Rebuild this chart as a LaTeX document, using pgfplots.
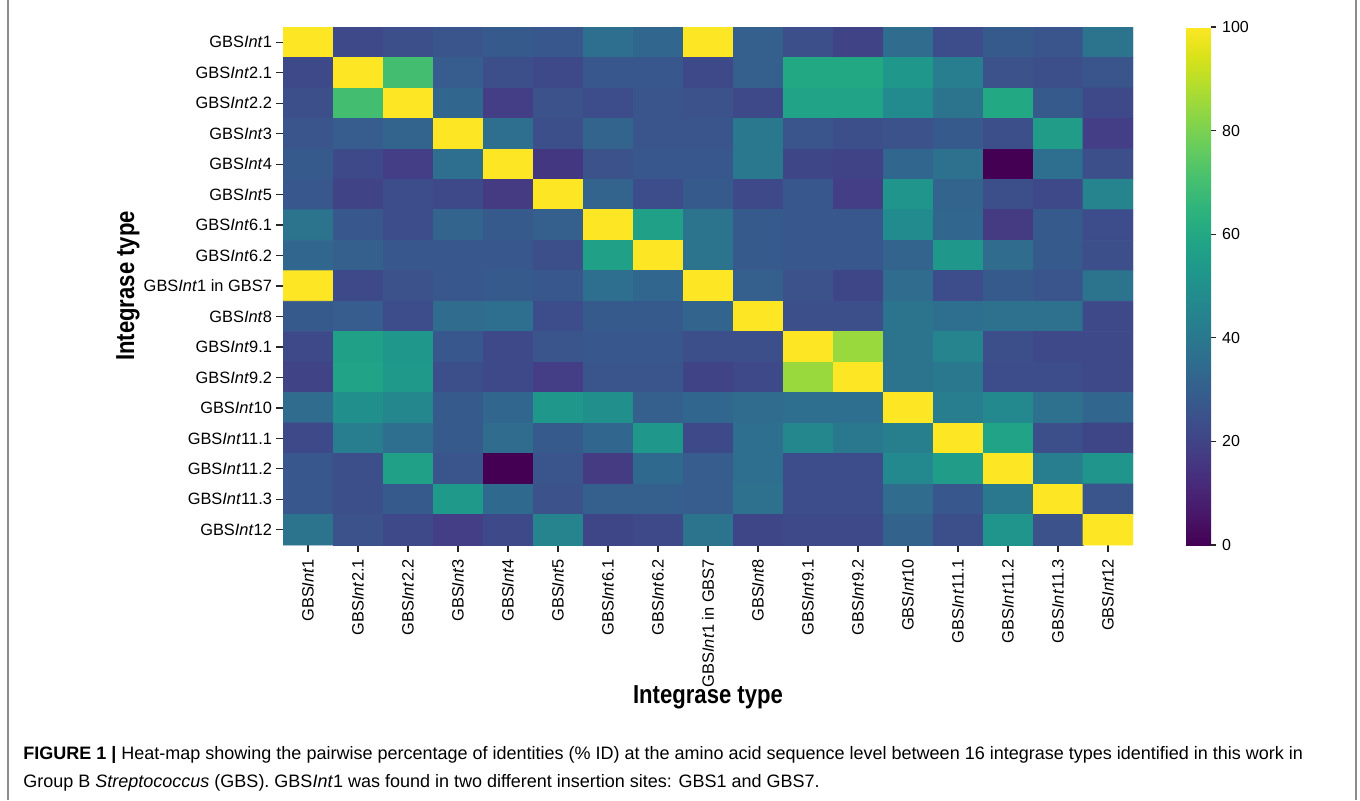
\documentclass[border=0pt]{standalone}
\usepackage{fontspec}
\setmainfont{Liberation Sans}
\newfontfamily\condfont[FakeStretch=0.85]{Liberation Sans}
\usepackage{pgfplots}
\pgfplotsset{compat=1.18}

\newcommand{\gi}[1]{GBS\textit{Int}#1}

\begin{document}
\begin{tikzpicture}
\useasboundingbox (0,0) rectangle (680pt,-400pt);
% frame of the figure
\draw[gray!90, line width=1pt] (3.75pt,0) -- (3.75pt,-400pt);
\draw[gray!90, line width=1pt] (678pt,0) -- (678pt,-400pt);

\begin{axis}[
    at={(141.5pt,-13.5pt)}, anchor=north west,
    scale only axis, width=425pt, height=259pt,
    xmin=-0.5, xmax=16.5, ymin=-0.5, ymax=16.5, y dir=reverse,
    axis line style={draw=none},
    tick pos=left, tick align=outside, major tick length=3.5pt,
    tick style={black!85, line width=0.6pt},
    xtick={0,...,16}, ytick={0,...,16},
    xticklabels={\gi{1},\gi{2.1},\gi{2.2},\gi{3},\gi{4},\gi{5},\gi{6.1},\gi{6.2},\gi{1} in GBS7,\gi{8},\gi{9.1},\gi{9.2},\gi{10},\gi{11.1},\gi{11.2},\gi{11.3},\gi{12}},
    yticklabels={\gi{1},\gi{2.1},\gi{2.2},\gi{3},\gi{4},\gi{5},\gi{6.1},\gi{6.2},\gi{1} in GBS7,\gi{8},\gi{9.1},\gi{9.2},\gi{10},\gi{11.1},\gi{11.2},\gi{11.3},\gi{12}},
    ticklabel style={font=\fontsize{8.2}{9}\selectfont},
    xticklabel style={rotate=90, anchor=east},
    yticklabel style={xshift=1.5pt},
    colormap/viridis, point meta min=0, point meta max=100,
    colorbar,
    colorbar style={
        at={(parent axis.north east)}, anchor=north west, xshift=18pt,
        scale only axis, width=12.5pt, height=259pt,
        ytick={0,20,...,100}, tick pos=right, yticklabel pos=right,
        axis line style={draw=none},
        tick align=outside, major tick length=2.5pt,
        tick style={black!85, line width=0.6pt},
        yticklabel style={font=\fontsize{8}{9}\selectfont, xshift=-0.5pt},
        /pgf/number format/assume math mode=true,
    },
]
\addplot[matrix plot*, mesh/cols=17, point meta=explicit] coordinates {
(0,0)[100] (1,0)[22] (2,0)[24] (3,0)[26] (4,0)[28] (5,0)[27] (6,0)[36] (7,0)[33] (8,0)[100] (9,0)[30] (10,0)[24] (11,0)[20] (12,0)[35] (13,0)[23] (14,0)[28] (15,0)[26] (16,0)[38]
(0,1)[22] (1,1)[100] (2,1)[70] (3,1)[29] (4,1)[24] (5,1)[22] (6,1)[27] (7,1)[27] (8,1)[22] (9,1)[30] (10,1)[60] (11,1)[60] (12,1)[53] (13,1)[42] (14,1)[25] (15,1)[24] (16,1)[26]
(0,2)[24] (1,2)[70] (2,2)[100] (3,2)[33] (4,2)[18] (5,2)[25] (6,2)[23] (7,2)[26] (8,2)[25] (9,2)[22] (10,2)[58] (11,2)[58] (12,2)[48] (13,2)[38] (14,2)[60] (15,2)[28] (16,2)[22]
(0,3)[26] (1,3)[29] (2,3)[32] (3,3)[100] (4,3)[36] (5,3)[24] (6,3)[32] (7,3)[26] (8,3)[26] (9,3)[40] (10,3)[26] (11,3)[24] (12,3)[25] (13,3)[28] (14,3)[24] (15,3)[55] (16,3)[18]
(0,4)[28] (1,4)[22] (2,4)[18] (3,4)[36] (4,4)[100] (5,4)[16] (6,4)[25] (7,4)[27] (8,4)[27] (9,4)[40] (10,4)[21] (11,4)[20] (12,4)[33] (13,4)[37] (14,4)[0] (15,4)[36] (16,4)[24]
(0,5)[27] (1,5)[20] (2,5)[23] (3,5)[22] (4,5)[17] (5,5)[100] (6,5)[32] (7,5)[23] (8,5)[28] (9,5)[22] (10,5)[27] (11,5)[18] (12,5)[52] (13,5)[32] (14,5)[24] (15,5)[22] (16,5)[45]
(0,6)[38] (1,6)[27] (2,6)[23] (3,6)[32] (4,6)[28] (5,6)[30] (6,6)[100] (7,6)[57] (8,6)[38] (9,6)[28] (10,6)[27] (11,6)[27] (12,6)[48] (13,6)[33] (14,6)[17] (15,6)[28] (16,6)[23]
(0,7)[33] (1,7)[30] (2,7)[27] (3,7)[27] (4,7)[27] (5,7)[24] (6,7)[57] (7,7)[100] (8,7)[38] (9,7)[28] (10,7)[27] (11,7)[27] (12,7)[32] (13,7)[53] (14,7)[35] (15,7)[28] (16,7)[24]
(0,8)[100] (1,8)[22] (2,8)[25] (3,8)[27] (4,8)[28] (5,8)[27] (6,8)[36] (7,8)[33] (8,8)[100] (9,8)[30] (10,8)[25] (11,8)[21] (12,8)[35] (13,8)[23] (14,8)[28] (15,8)[26] (16,8)[38]
(0,9)[28] (1,9)[29] (2,9)[23] (3,9)[35] (4,9)[36] (5,9)[23] (6,9)[28] (7,9)[28] (8,9)[32] (9,9)[100] (10,9)[24] (11,9)[24] (12,9)[38] (13,9)[36] (14,9)[37] (15,9)[37] (16,9)[22]
(0,10)[22] (1,10)[57] (2,10)[53] (3,10)[27] (4,10)[22] (5,10)[26] (6,10)[27] (7,10)[27] (8,10)[24] (9,10)[24] (10,10)[100] (11,10)[85] (12,10)[38] (13,10)[45] (14,10)[24] (15,10)[22] (16,10)[22]
(0,11)[20] (1,11)[58] (2,11)[54] (3,11)[24] (4,11)[22] (5,11)[18] (6,11)[26] (7,11)[26] (8,11)[20] (9,11)[22] (10,11)[85] (11,11)[100] (12,11)[38] (13,11)[40] (14,11)[23] (15,11)[23] (16,11)[22]
(0,12)[35] (1,12)[50] (2,12)[46] (3,12)[28] (4,12)[33] (5,12)[53] (6,12)[50] (7,12)[30] (8,12)[33] (9,12)[35] (10,12)[36] (11,12)[36] (12,12)[100] (13,12)[42] (14,12)[47] (15,12)[37] (16,12)[33]
(0,13)[22] (1,13)[42] (2,13)[36] (3,13)[28] (4,13)[35] (5,13)[28] (6,13)[33] (7,13)[53] (8,13)[22] (9,13)[36] (10,13)[46] (11,13)[40] (12,13)[43] (13,13)[100] (14,13)[58] (15,13)[24] (16,13)[21]
(0,14)[27] (1,14)[24] (2,14)[57] (3,14)[26] (4,14)[0] (5,14)[26] (6,14)[17] (7,14)[34] (8,14)[29] (9,14)[36] (10,14)[23] (11,14)[23] (12,14)[47] (13,14)[55] (14,14)[100] (15,14)[42] (16,14)[52]
(0,15)[27] (1,15)[24] (2,15)[28] (3,15)[54] (4,15)[34] (5,15)[25] (6,15)[30] (7,15)[30] (8,15)[29] (9,15)[37] (10,15)[23] (11,15)[23] (12,15)[35] (13,15)[27] (14,15)[40] (15,15)[100] (16,15)[26]
(0,16)[38] (1,16)[25] (2,16)[22] (3,16)[18] (4,16)[22] (5,16)[45] (6,16)[21] (7,16)[22] (8,16)[38] (9,16)[21] (10,16)[22] (11,16)[22] (12,16)[31] (13,16)[24] (14,16)[52] (15,16)[25] (16,16)[100]
};
\end{axis}

% axis titles
\node[font=\condfont\bfseries\fontsize{13}{15}\selectfont] at (354pt,-348.5pt) {Integrase type};
\node[font=\condfont\bfseries\fontsize{13}{15}\selectfont, rotate=90] at (64pt,-143pt) {Integrase type};

% caption
\node[anchor=base west, inner sep=0pt, font=\fontsize{9}{10}\selectfont] at (11.5pt,-379.5pt)
  {\textbf{FIGURE 1 |} Heat-map showing the pairwise percentage of identities (\% ID) at the amino acid sequence level between 16 integrase types identified in this work in};
\node[anchor=base west, inner sep=0pt, font=\fontsize{9}{10}\selectfont] at (11.5pt,-393.5pt)
  {Group B \textit{Streptococcus} (GBS). GBS\textit{Int}1 was found in two different insertion sites: GBS1 and GBS7.};
\end{tikzpicture}
\end{document}
